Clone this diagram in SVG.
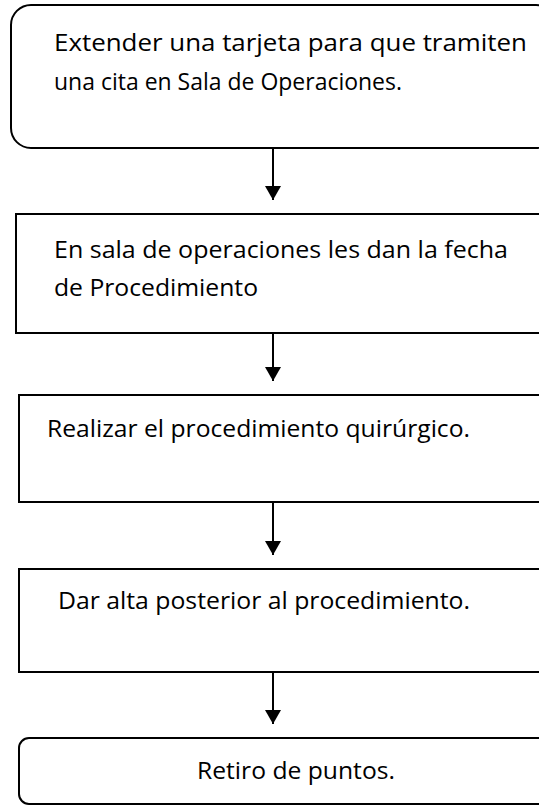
<svg xmlns="http://www.w3.org/2000/svg" width="539" height="806" viewBox="0 0 539 806">
<style>
.box{fill:#fff;stroke:#000;stroke-width:2}
.t{font-family:"Open Sans","Liberation Sans",sans-serif;font-size:24px;fill:#000}
.c{stroke:#000;stroke-width:2;fill:none}
</style>
<defs>
<marker id="ah" markerWidth="8" markerHeight="8" refX="7" refY="4" orient="auto" markerUnits="strokeWidth">
<path d="M0,0 L7,4 L0,8 Z" fill="#000"/>
</marker>
</defs>
<rect width="539" height="806" fill="#fff"/>
<g id="n1"><rect class="box" x="11" y="5" width="545" height="143" rx="20"/>
<text class="t" x="54" y="51" textLength="473" lengthAdjust="spacingAndGlyphs">Extender una tarjeta para que tramiten</text>
<text class="t" x="54" y="90" textLength="348" lengthAdjust="spacingAndGlyphs">una cita en Sala de Operaciones.</text></g>
<g id="n2"><rect class="box" x="16" y="214" width="540" height="119"/>
<text class="t" x="54" y="258" textLength="454" lengthAdjust="spacingAndGlyphs">En sala de operaciones les dan la fecha</text>
<text class="t" x="54" y="296" textLength="204" lengthAdjust="spacingAndGlyphs">de Procedimiento</text></g>
<g id="n3"><rect class="box" x="19" y="395" width="540" height="107"/>
<text class="t" x="47" y="437" textLength="423" lengthAdjust="spacingAndGlyphs">Realizar el procedimiento quirúrgico.</text></g>
<g id="n4"><rect class="box" x="19" y="569" width="540" height="103"/>
<text class="t" x="58" y="609" textLength="412" lengthAdjust="spacingAndGlyphs">Dar alta posterior al procedimiento.</text></g>
<g id="n5"><rect class="box" x="19" y="738" width="540" height="66" rx="10"/>
<text class="t" x="197" y="779" textLength="198" lengthAdjust="spacingAndGlyphs">Retiro de puntos.</text></g>
<g id="connectors">
<line class="c" x1="273" y1="148" x2="273" y2="200" marker-end="url(#ah)"/>
<line class="c" x1="273" y1="333" x2="273" y2="381" marker-end="url(#ah)"/>
<line class="c" x1="273" y1="502" x2="273" y2="555" marker-end="url(#ah)"/>
<line class="c" x1="273" y1="672" x2="273" y2="724" marker-end="url(#ah)"/>
</g>
</svg>
